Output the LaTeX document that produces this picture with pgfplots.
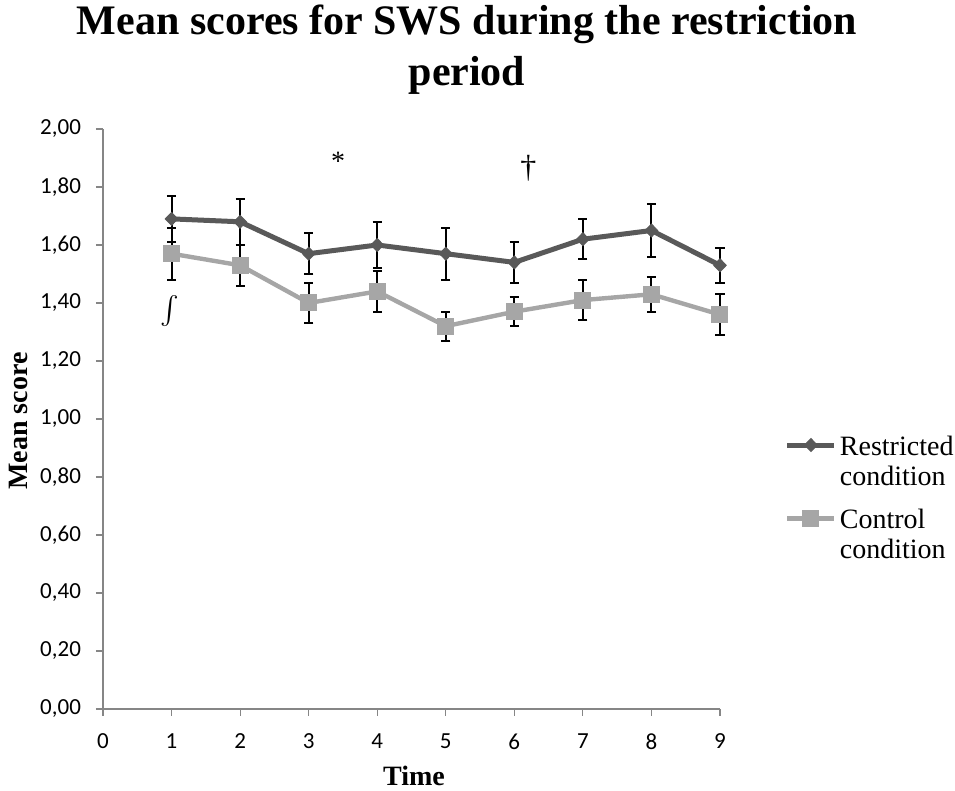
\documentclass[border=0pt]{standalone}
\usepackage{pgfplots}
\pgfplotsset{compat=1.18}
\usepackage{fontspec}
\setmainfont{Liberation Serif}
\newfontfamily\tickfont{Carlito}
\definecolor{darkser}{HTML}{595959}
\definecolor{lightser}{HTML}{A6A6A6}
\definecolor{axisgray}{HTML}{868686}
\begin{document}
\begin{tikzpicture}
\path[use as bounding box] (-51.5pt,-41pt) rectangle (426pt,354.5pt);
\begin{axis}[
  width=308.5pt, height=290pt, scale only axis,
  xmin=0, xmax=9, ymin=0, ymax=2,
  xtick={0,1,2,3,4,5,6,7,8,9},
  ytick={0,0.2,0.4,0.6,0.8,1,1.2,1.4,1.6,1.8,2},
  yticklabel style={/pgf/number format/.cd, fixed, fixed zerofill, precision=2, use comma, /tikz/.cd, xshift=-4pt},
  xticklabel style={yshift=-5.5pt},
  /pgf/number format/assume math mode=true,
  ticklabel style={font=\tickfont\fontsize{11.5}{13}\selectfont},
  axis x line*=bottom, axis y line*=left,
  axis line style={draw=axisgray, line width=0.6pt, -},
  tick style={draw=axisgray, line width=0.6pt},
  tick align=outside, major tick length=3.5pt,
  clip=false,
  legend cell align=left,
  legend style={draw=none, fill=none, inner sep=0pt, outer sep=0pt,
    at={(rel axis cs:1.1053,0.471)}, anchor=north west,
    nodes={inner sep=0pt, align=left, font=\fontsize{14}{15}\selectfont},
    row sep=10.5pt, column sep=1.5pt},
  legend image code/.code={\draw[mark repeat=2,mark phase=2,#1] plot coordinates {(0pt,8.5pt) (11.75pt,8.5pt) (23.5pt,8.5pt)};},
]
\addplot[darkser, line width=2.5pt, mark=diamond*, mark size=3.2pt,
  mark options={xscale=1.3, solid, fill=darkser, draw=darkser, line width=0.5pt},
  error bars/.cd, y dir=both, y explicit,
  error bar style={black, line width=1pt},
  error mark options={rotate=90, mark size=2.3pt, black, line width=1pt}]
  table[x=x, y=y, y error=e] {
x y e
1 1.69 0.08
2 1.68 0.08
3 1.57 0.07
4 1.60 0.08
5 1.57 0.09
6 1.54 0.07
7 1.62 0.07
8 1.65 0.09
9 1.53 0.06
};
\addlegendentry{Restricted\\condition}
\addplot[lightser, line width=2.2pt, mark=square*, mark size=4pt,
  mark options={solid, fill=lightser, draw=lightser, line width=0.5pt},
  error bars/.cd, y dir=both, y explicit,
  error bar style={black, line width=1pt},
  error mark options={rotate=90, mark size=2.3pt, black, line width=1pt}]
  table[x=x, y=y, y error=e] {
x y e
1 1.57 0.09
2 1.53 0.07
3 1.40 0.07
4 1.44 0.07
5 1.32 0.05
6 1.37 0.05
7 1.41 0.07
8 1.43 0.06
9 1.36 0.07
};
\addlegendentry{Control\\condition}
\node[font=\fontsize{14}{14}\selectfont, inner sep=0pt] at (axis cs:3.428,1.888) {*};
\node[font=\fontsize{16}{16}\selectfont, inner sep=0pt] at (axis cs:6.206,1.864) {†};
\node[inner sep=0pt] at (axis cs:0.977,1.371) {\scalebox{1.4}{$\int$}};
\end{axis}
\node[font=\fontsize{21}{25}\selectfont\bfseries, anchor=base, inner sep=0pt] at (182pt,337pt) {Mean scores for SWS during the restriction};
\node[font=\fontsize{21}{25}\selectfont\bfseries, anchor=base, inner sep=0pt] at (182pt,311.5pt) {period};
\node[font=\fontsize{14}{16}\selectfont\bfseries, anchor=base, inner sep=0pt] at (155.5pt,-38.4pt) {Time};
\node[font=\fontsize{14}{16}\selectfont\bfseries, rotate=90, inner sep=0pt] at (-42.5pt,144pt) {Mean score};
\end{tikzpicture}
\end{document}
